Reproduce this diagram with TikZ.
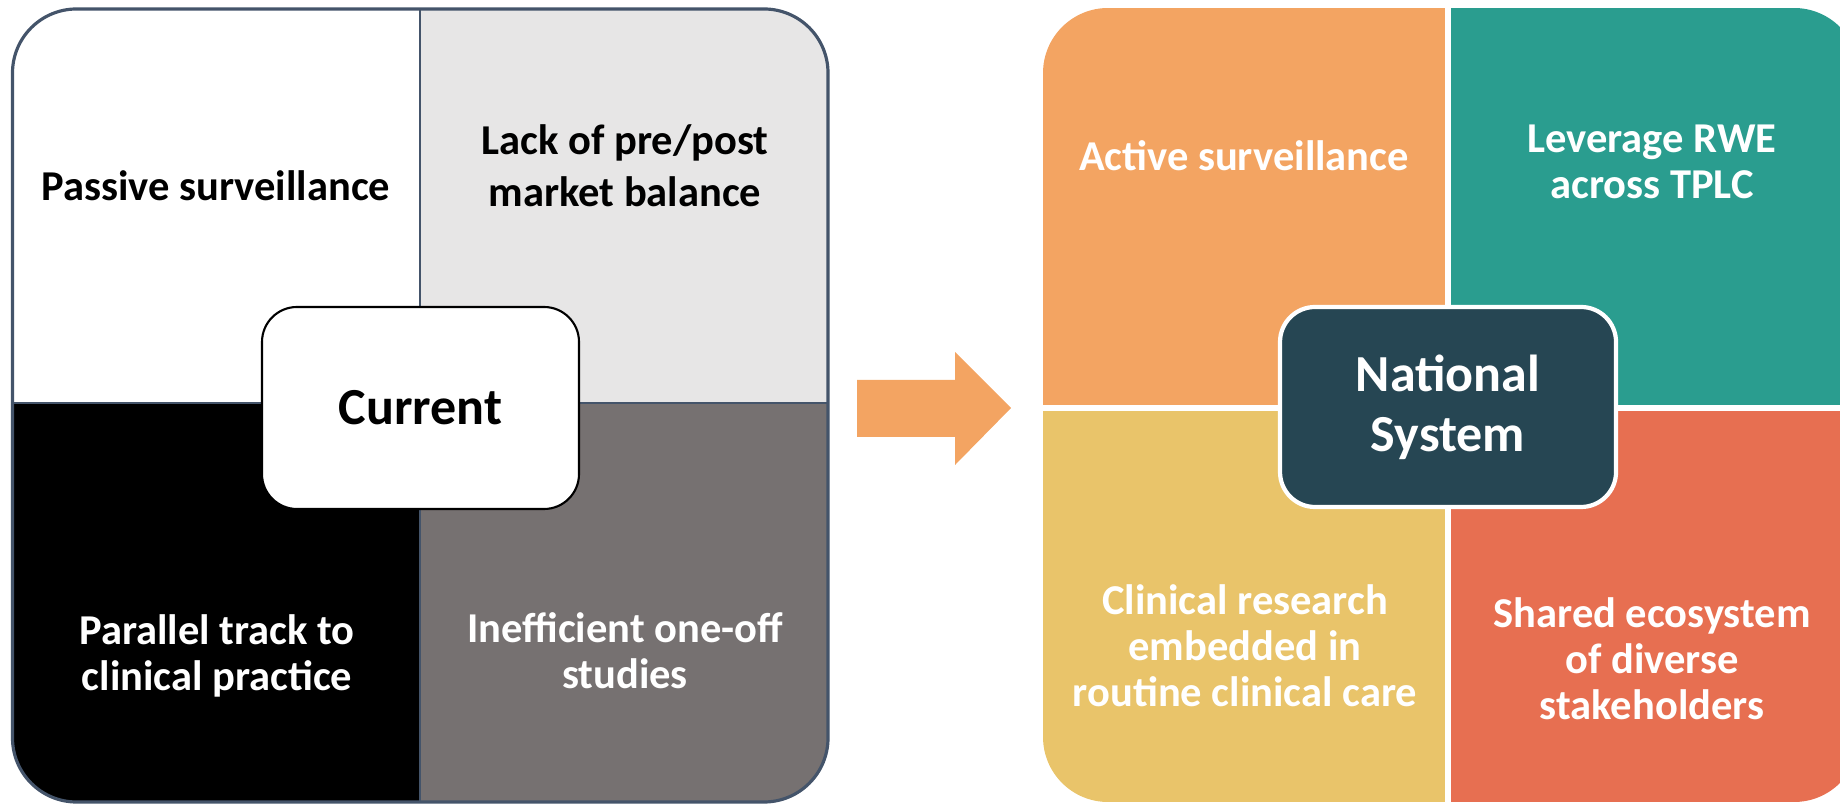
\documentclass[tikz,border=0pt]{standalone}
\usepackage{fontspec}
\setmainfont{Carlito}
\definecolor{slate}{HTML}{44546A}
\definecolor{ltgrey}{HTML}{E7E6E6}
\definecolor{midgrey}{HTML}{767171}
\definecolor{sandy}{HTML}{F3A462}
\definecolor{seagreen}{HTML}{2A9D8F}
\definecolor{saffron}{HTML}{E9C46A}
\definecolor{burnt}{HTML}{E76F51}
\definecolor{charcoal}{HTML}{264653}
\begin{document}
\begin{tikzpicture}[quad/.style = {align=center, inner sep=0pt, font=\fontsize{12.1}{13.1}\selectfont\bfseries},
	hub/.style = {rounded corners=0.35cm, align=center, font=\fontsize{14.8}{17.1}\selectfont\bfseries}]
		\clip (0,0) rectangle (18.4,8.03);

		\begin{scope}
			\clip[rounded corners=0.64cm] (0.125,0.01) rectangle (8.28,7.94);
			\fill[white] (0.125,4.00) rectangle (4.20,7.94);
			\fill[ltgrey] (4.20,4.00) rectangle (8.28,7.94);
			\fill[black] (0.125,0.01) rectangle (4.20,4.00);
			\fill[midgrey] (4.20,0.01) rectangle (8.28,4.00);
		\end{scope}
		\draw[slate, line width=0.6pt] (4.20,0.01) -- (4.20,7.94) (0.125,4.00) -- (8.28,4.00);
		\draw[slate, line width=0.9pt, rounded corners=0.64cm] (0.125,0.01) rectangle (8.28,7.94);

		\begin{scope}
			\clip[rounded corners=0.65cm] (10.43,0.01) rectangle (18.59,7.95);
			\fill[sandy] (10.43,3.95) rectangle (14.48,7.95);
			\fill[seagreen] (14.48,3.95) rectangle (18.59,7.95);
			\fill[saffron] (10.43,0.01) rectangle (14.48,3.95);
			\fill[burnt] (14.48,0.01) rectangle (18.59,3.95);
		\end{scope}
		\draw[white, line width=1.5pt] (14.48,0) -- (14.48,8.03) (10.43,3.95) -- (18.59,3.95);

		\fill[sandy] (8.57,4.23) -- (9.55,4.23) -- (9.55,4.51) -- (10.11,3.95) -- (9.55,3.38) -- (9.55,3.66) -- (8.57,3.66) -- cycle;

		\node[quad] (passive) at (2.16,6.17) {Passive surveillance};
		\node[quad, font=\fontsize{12.1}{14.8}\selectfont\bfseries] (balance) at (6.25,6.37) {Lack of pre/post\\market balance};
		\node[quad, text=white] (parallel) at (2.17,1.47) {Parallel track to\\clinical practice};
		\node[quad, text=white] (oneoff) at (6.25,1.52) {Inefficient one-off\\studies};

		\node[quad, text=white] (active) at (12.44,6.47) {Active surveillance};
		\node[quad, text=white] (rwe) at (16.52,6.41) {Leverage RWE\\across TPLC};
		\node[quad, text=white] (research) at (12.45,1.57) {Clinical research\\embedded in\\routine clinical care};
		\node[quad, text=white] (ecosystem) at (16.52,1.44) {Shared ecosystem\\of diverse\\stakeholders};

		\node[hub, draw=black, line width=0.6pt, fill=white, minimum width=3.17cm, minimum height=2.02cm] (current) at (4.205,3.95) {Current};
		\node[hub, draw=white, line width=1.2pt, fill=charcoal, text=white, minimum width=3.36cm, minimum height=2.0cm] (natsys) at (14.48,3.96) {National\\System};
\end{tikzpicture}
\end{document}
